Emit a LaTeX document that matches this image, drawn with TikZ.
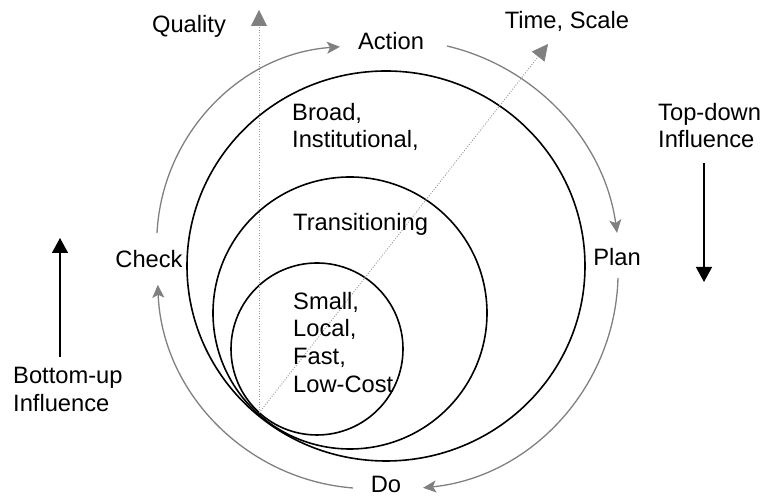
\documentclass[tikz,border=0pt]{standalone}
\usepackage{fontspec}
\setmainfont{Liberation Sans}
\usetikzlibrary{arrows.meta}

\begin{document}
\begin{tikzpicture}[x=1pt,y=1pt,
    ring/.style={line width=1.6pt},
    cyc/.style={gray,line width=1.3pt,-{Stealth[length=13pt,width=12pt,inset=3pt]}},
    axis/.style={gray!80,line width=0.9pt,dash pattern=on 1pt off 1.6pt,
      -{Triangle[length=16pt,width=16pt,color=gray]}},
    infl/.style={line width=1.4pt,-{Triangle[length=15pt,width=16pt]}},
    lbl/.style={inner sep=0pt,font=\fontsize{23.7}{27.6}\selectfont},
    multi/.style={lbl,align=left,anchor=north west}]
    \useasboundingbox (0,0) rectangle (764,497);
    % nested scales
    \draw[ring] (386,231) ellipse [x radius=199,y radius=195];
    \draw[ring] (350,184) ellipse [x radius=137,y radius=136];
    \draw[ring] (317,148) circle [radius=86];
    % dotted axes from the common point
    \coordinate (origin) at (259,84);
    \coordinate (qtip) at (259,487);
    \coordinate (ttip) at (548,453);
    \draw[axis] (origin) -- (qtip);
    \draw[axis] (origin) -- (ttip);
    % labels
    \node[lbl,anchor=base] (quality) at (189,464) {Quality};
    \node[lbl,anchor=base] (timescale) at (567,468) {Time, Scale};
    \node[lbl,anchor=base] (action) at (391,447) {Action};
    \node[lbl,anchor=base] (plan) at (617,231) {Plan};
    \node[lbl,anchor=base] (do) at (386,4) {Do};
    \node[lbl,anchor=base] (check) at (149,229) {Check};
    \node[multi] (broad) at (292,394) {Broad,\\Institutional,};
    \node[multi] (trans) at (293,284) {Transitioning};
    \node[multi] (small) at (293,205) {Small,\\Local,\\Fast,\\Low-Cost};
    \node[multi] (topdown) at (658,394) {Top-down\\Influence};
    \node[multi] (bottomup) at (13,130) {Bottom-up\\Influence};
    % the cycle
    \coordinate (c1) at (157,264);
    \coordinate (c2) at (447,451);
    \coordinate (c3) at (618,219);
    \coordinate (c4) at (353,9);
    \draw[cyc] (c1) arc[start angle=177,end angle=94,radius=197];
    \draw[cyc] (c2) arc[start angle=76.7,end angle=7.9,radius=223.6];
    \draw[cyc] (c3) arc[start angle=-1.6,end angle=-84.2,radius=217];
    \draw[cyc] (c4) arc[start angle=265.5,end angle=182.2,radius=212];
    % influence arrows
    \coordinate (td1) at (704,334);
    \coordinate (td2) at (704,215);
    \coordinate (bu1) at (60,140);
    \coordinate (bu2) at (60,259);
    \draw[infl] (td1) -- (td2);
    \draw[infl] (bu1) -- (bu2);
\end{tikzpicture}
\end{document}
